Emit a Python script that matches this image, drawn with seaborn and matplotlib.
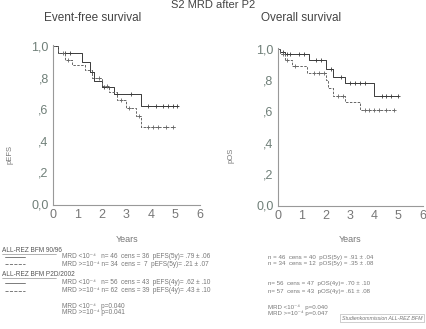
import matplotlib
matplotlib.use('Agg')

import numpy as np
import pandas as pd
import matplotlib.pyplot as plt
import seaborn as sns

# --- data ---
efs_lo_t = [0, 0.2, 1.2, 1.5, 1.7, 2.0, 2.5, 3.6, 5.1]
efs_lo_s = [1.0, 0.96, 0.90, 0.84, 0.78, 0.74, 0.70, 0.62, 0.62]
efs_lo_cens = [0.5, 0.7, 1.6, 2.1, 2.6, 3.2, 3.9, 4.2, 4.5, 4.7, 4.9, 5.05]

efs_hi_t = [0, 0.2, 0.5, 0.8, 1.3, 1.6, 2.0, 2.3, 2.6, 3.0, 3.4, 3.6, 5.0]
efs_hi_s = [1.0, 0.96, 0.91, 0.88, 0.85, 0.80, 0.75, 0.71, 0.66, 0.61, 0.56, 0.49, 0.49]
efs_hi_cens = [0.4, 0.6, 1.9, 2.2, 2.8, 3.1, 3.5, 3.9, 4.1, 4.3, 4.6, 4.9]

os_lo_t = [0, 0.1, 0.3, 1.3, 2.0, 2.3, 2.8, 4.0, 5.0]
os_lo_s = [1.0, 0.98, 0.97, 0.93, 0.87, 0.82, 0.78, 0.70, 0.70]
os_lo_cens = [0.2, 0.4, 0.5, 0.9, 1.1, 1.6, 1.8, 2.2, 2.6, 3.0, 3.2, 3.4, 3.6, 4.3, 4.5, 4.7, 5.0]

os_hi_t = [0, 0.1, 0.3, 0.6, 1.2, 2.0, 2.1, 2.3, 2.8, 3.4, 4.9]
os_hi_s = [1.0, 0.97, 0.93, 0.89, 0.85, 0.80, 0.75, 0.70, 0.66, 0.61, 0.61]
os_hi_cens = [0.2, 0.4, 0.7, 1.5, 1.7, 1.9, 2.5, 2.7, 3.6, 3.8, 4.0, 4.2, 4.5, 4.8]

year_ticks = [0, 1, 2, 3, 4, 5, 6]
y_ticks = [0.0, 0.2, 0.4, 0.6, 0.8, 1.0]
y_labels = ['0,0', ',2', ',4', ',6', ',8', '1,0']

left_lines = [
    ('ALL-REZ BFM 90/96', None),
    ('MRD <10⁻⁴   n= 46  cens = 36  pEFS(5y)= .79 ± .06', '-'),
    ('MRD >=10⁻⁴ n= 34  cens =  7  pEFS(5y)= .21 ± .07', '--'),
    ('ALL-REZ BFM P2D/2002', None),
    ('MRD <10⁻⁴   n= 56  cens = 43  pEFS(4y)= .62 ± .10', '-'),
    ('MRD >=10⁻⁴ n= 62  cens = 39  pEFS(4y)= .43 ± .10', '--'),
]
right_lines = [
    'n = 46  cens = 40  pOS(5y) = .91 ± .04',
    'n = 34  cens = 12  pOS(5y) = .35 ± .08',
    '',
    'n= 56  cens = 47  pOS(4y)= .70 ± .10',
    'n= 57  cens = 43  pOS(4y)= .61 ± .08',
]
p_left = ['MRD <10⁻⁴   p=0.040', 'MRD >=10⁻⁴ p=0.041']
p_right = ['MRD <10⁻⁴   p=0.040', 'MRD >=10⁻⁴ p=0.047']

sns.set_style('white')
plt.rcParams['font.family'] = ['Liberation Sans', 'DejaVu Sans']

fig = plt.figure(figsize=(4.26, 3.29), dpi=100)
ax1 = fig.add_axes([0.124, 0.378, 0.345, 0.486])
ax2 = fig.add_axes([0.652, 0.375, 0.340, 0.480])

line_c = '#3a3a3a'


def curve(ax, t, s, cens, dashed):
    df = pd.DataFrame({'t': t, 's': s})
    ls = (0, (2.5, 1.5)) if dashed else '-'
    col = '#666666' if dashed else line_c
    sns.lineplot(data=df, x='t', y='s', ax=ax, drawstyle='steps-post',
                 color=col, linewidth=0.7, linestyle=ls)
    idx = np.searchsorted(t, cens, side='right') - 1
    cy = np.array(s)[idx]
    ax.plot(cens, cy, linestyle='none', marker='+', markersize=2.5,
            markeredgewidth=0.6, color=col)


def style(ax, xlab_x):
    ax.set_xlim(0, 6)
    ax.set_ylim(-0.005, 1.01)
    ax.set_xticks(year_ticks)
    ax.set_xticklabels([str(v) for v in year_ticks])
    ax.set_yticks(y_ticks)
    ax.set_yticklabels(y_labels)
    ax.tick_params(axis='x', direction='in', length=2, labelsize=9,
                   colors='#888888', labelcolor='#777777', pad=3)
    ax.tick_params(axis='y', direction='out', length=2, labelsize=9,
                   colors='#888888', labelcolor='#6f7f78', pad=1)
    for sp in ['top', 'right']:
        ax.spines[sp].set_visible(False)
    for sp in ['left', 'bottom']:
        ax.spines[sp].set_color('#999999')
        ax.spines[sp].set_linewidth(0.8)
    ax.set_xlabel('')
    ax.set_ylabel('')
    fig.text(xlab_x, 1 - 240 / 329, 'Years', ha='center', va='center',
             fontsize=6.5, color='#777777')


curve(ax1, efs_lo_t, efs_lo_s, efs_lo_cens, False)
curve(ax1, efs_hi_t, efs_hi_s, efs_hi_cens, True)
curve(ax2, os_lo_t, os_lo_s, os_lo_cens, False)
curve(ax2, os_hi_t, os_hi_s, os_hi_cens, True)

style(ax1, 127 / 426)
style(ax2, 350 / 426)

fig.text(93 / 426, 1 - 18 / 329, 'Event-free survival', ha='center', va='center',
         fontsize=8.5, color='#444444')
fig.text(301 / 426, 1 - 18 / 329, 'Overall survival', ha='center', va='center',
         fontsize=8.5, color='#444444')
fig.text(213 / 426, 1 - 0.5 / 329, 'S2 MRD after P2', ha='center', va='top',
         fontsize=8, color='#444444')
fig.text(10 / 426, 1 - 155 / 329, 'pEFS', rotation=90, ha='center', va='center',
         fontsize=5.5, color='#777777')
fig.text(231 / 426, 1 - 155 / 329, 'pOS', rotation=90, ha='center', va='center',
         fontsize=5.5, color='#777777')

# legend-like block below the plots
fs = 4.7
ys = [251, 257, 264, 275, 283, 291]
for (s, ls), y in zip(left_lines, ys):
    yf = 1 - y / 329
    if ls is None:
        t = fig.text(2 / 426, yf, s, ha='left', va='center', fontsize=fs,
                     color='#555555')
        fig.add_artist(plt.Line2D([2 / 426, 56 / 426], [yf - 0.010, yf - 0.010],
                                  color='#777777', linewidth=0.4))
    else:
        fig.add_artist(plt.Line2D([5 / 426, 25 / 426], [yf, yf], color='#666666',
                                  linewidth=0.6, linestyle=ls))
        fig.text(62 / 426, yf, s, ha='left', va='center', fontsize=fs,
                 color='#777777')
for s, y in zip(right_lines, [257, 264, 0, 283, 291]):
    if s:
        fig.text(268 / 426, 1 - y / 329, s, ha='left', va='center', fontsize=4.4,
                 color='#777777')
for s, y in zip(p_left, [307, 313]):
    fig.text(62 / 426, 1 - y / 329, s, ha='left', va='center', fontsize=fs,
             color='#777777')
for s, y in zip(p_right, [307, 313]):
    fig.text(268 / 426, 1 - y / 329, s, ha='left', va='center', fontsize=4.4,
             color='#777777')
fig.text(342 / 426, 1 - 318 / 329, 'Studienkommission ALL-REZ BFM', ha='left',
         va='center', fontsize=3.8, color='#777777', style='italic',
         bbox=dict(boxstyle='square,pad=0.3', fc='white', ec='#aaaaaa', lw=0.4))

fig.savefig('out.png', dpi=100, facecolor='white')
